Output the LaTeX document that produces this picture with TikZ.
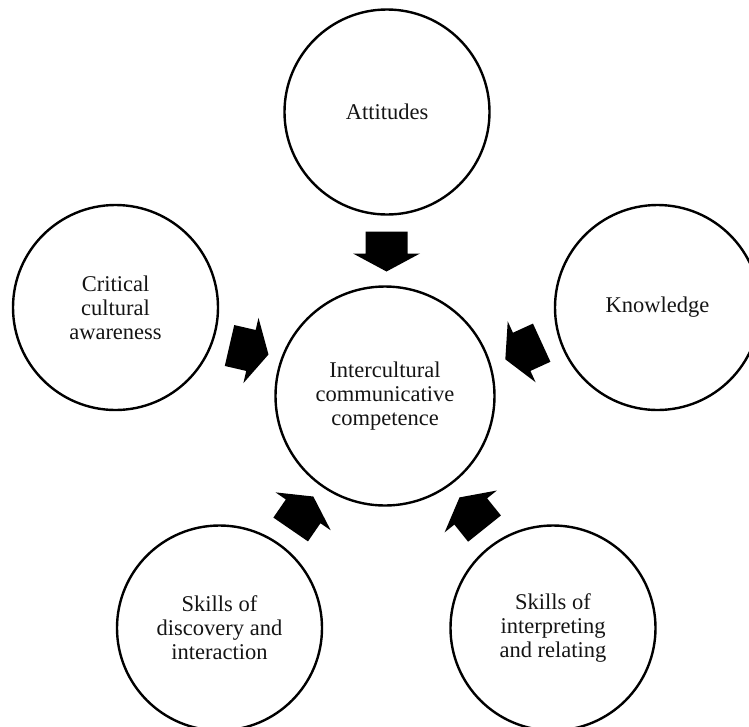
\documentclass[tikz,border=0pt]{standalone}
\usepackage{fontspec}
\setmainfont{Liberation Serif}
\begin{document}
\begin{tikzpicture}[x=1pt,y=-1pt,
  bubble/.style={circle,draw=black,line width=2.4pt,minimum size=205pt,inner sep=0pt,
    align=center,text=black!92,font=\fontsize{22.5}{24}\selectfont},
  blockarrow/.pic={\fill[black] (-20,-21) -- (2,-21) -- (2,-33.5) -- (20,0) -- (2,33.5) -- (2,21) -- (-20,21) -- cycle;}]
\useasboundingbox (0,0) rectangle (749,726);
\begin{scope}
\clip (0,0) rectangle (749,726);
\node[bubble] (att) at (387,112) {Attitudes};
\node[bubble] (crit) at (115.5,307.5) {Critical\\cultural\\awareness};
\node[bubble] (know) at (657.5,307.5) {Knowledge};
\node[bubble,minimum size=219pt] (icc) at (385,396) {Intercultural\\communicative\\competence};
\node[bubble] (disc) at (219.5,628) {Skills of\\discovery and\\interaction};
\node[bubble] (interp) at (553,628) {Skills of\\interpreting\\and relating};
\coordinate (a1) at (386.5,251.5);
\coordinate (a2) at (249,350);
\coordinate (a3) at (523.5,351);
\coordinate (a4) at (302,513);
\coordinate (a5) at (472,513);
\pic[rotate=-90] at (a1) {blockarrow};
\pic[rotate=-13] at (a2) {blockarrow};
\pic[rotate=204.6] at (a3) {blockarrow};
\pic[rotate=55.5] at (a4) {blockarrow};
\pic[rotate=128.7] at (a5) {blockarrow};
\end{scope}
\end{tikzpicture}
\end{document}
